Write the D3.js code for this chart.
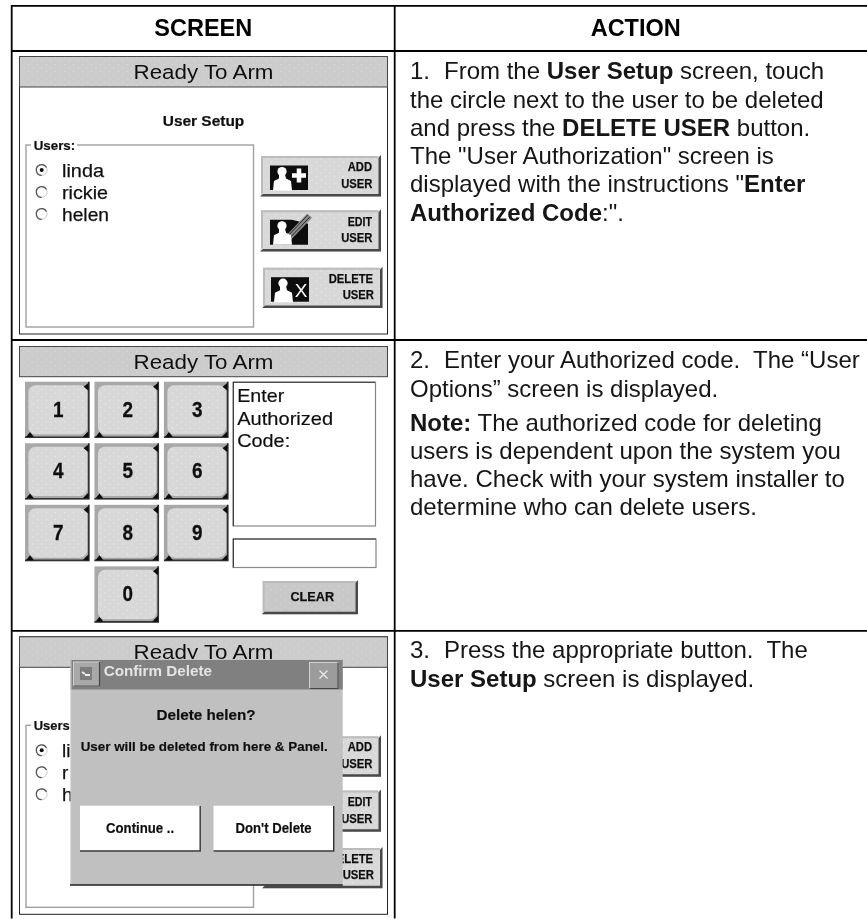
<!DOCTYPE html>
<html lang="en">
<head>
<meta charset="UTF-8">
<title>Delete user screens</title>
<script src="https://d3js.org/d3.v7.min.js"></script>
<style>
    html, body { margin: 0; padding: 0; background: #fff; }
    svg { display: block; }
    text { font-family: "Liberation Sans", Arial, sans-serif; white-space: pre; }
</style>
</head>
<body>
<svg width="867" height="919"></svg>
<script>
    // table content
    const headerLabels = ["SCREEN", "ACTION"];
    const screenTitle = "Ready To Arm";
    const userNames = ["linda", "rickie", "helen"];
    const userNamesCovered = ["li", "r", "h"];
    const selectedUser = "linda";
    const keypadRows = [["1", "2", "3"], ["4", "5", "6"], ["7", "8", "9"], [null, "0", null]];
    const promptLines = ["Enter", "Authorized", "Code:"];
    const dialogTitle = "Confirm Delete";
    const dialogQuestion = "Delete helen?";
    const dialogMessage = "User will be deleted from here & Panel.";
    const dialogButtons = ["Continue ..", "Don't Delete"];

    // [text, bold] pieces per line, first line holds the step number
    const step1Lines = [
        [["From the ", 0], ["User Setup", 1], [" screen, touch", 0]],
        [["the circle next to the user to be deleted", 0]],
        [["and press the ", 0], ["DELETE USER", 1], [" button.", 0]],
        [["The \"User Authorization\" screen is", 0]],
        [["displayed with the instructions \"", 0], ["Enter", 1]],
        [["Authorized Code", 1], [":\".", 0]]
    ];
    const step2Lines = [
        [["Enter your Authorized code.  The \u201cUser", 0]],
        [["Options\u201d screen is displayed.", 0]],
        [["Note:", 1], [" The authorized code for deleting", 0]],
        [["users is dependent upon the system you", 0]],
        [["have. Check with your system installer to", 0]],
        [["determine who can delete users.", 0]]
    ];
    const step3Lines = [
        [["Press the appropriate button.  The", 0]],
        [["User Setup", 1], [" screen is displayed.", 0]]
    ];

    const svg = d3.select("svg");
    const width = +svg.attr("width");
    const height = +svg.attr("height");

    const defs = svg.append("defs");

    // light dots on the gray button faces
    function dotPattern(id, bg, dot) {
        const p = defs.append("pattern").attr("id", id)
            .attr("width", 9).attr("height", 7)
            .attr("patternUnits", "userSpaceOnUse");
        p.append("rect").attr("width", 9).attr("height", 7).attr("fill", bg);
        p.append("rect").attr("x", 1).attr("y", 1).attr("width", 1).attr("height", 1).attr("fill", dot);
        p.append("rect").attr("x", 5.5).attr("y", 4.5).attr("width", 1).attr("height", 1).attr("fill", dot);
    }
    dotPattern("titleDots", "#cccccc", "#dcdcdc");
    dotPattern("faceDots", "#d8d8d8", "#eeeeee");
    dotPattern("clearDots", "#c8c8c8", "#d8d8d8");

    defs.append("filter").attr("id", "soft")
        .attr("x", 0).attr("y", 0).attr("width", 1).attr("height", 1)
        .append("feGaussianBlur").attr("stdDeviation", 0.35);

    function label(g, str, x, y, o) {
        const t = g.append("text").attr("x", x).attr("y", y)
            .attr("font-size", o.size)
            .attr("font-weight", o.bold ? "bold" : "normal")
            .attr("text-anchor", o.anchor || "start")
            .attr("fill", o.fill || "#111")
            .text(str);
        if (o.fit) t.attr("textLength", o.fit).attr("lengthAdjust", "spacingAndGlyphs");
        if (o.heavy) t.attr("stroke", o.fill || "#111").attr("stroke-width", o.heavy);
        return t;
    }

    function box(g, x0, y0, x1, y1, fill, stroke, sw) {
        return g.append("rect").attr("x", x0).attr("y", y0)
            .attr("width", x1 - x0).attr("height", y1 - y0)
            .attr("fill", fill).attr("stroke", stroke || "none").attr("stroke-width", sw || 0);
    }

    function titleBar(g, y0, y1) {
        box(g, 19.5, y0, 387.5, y1, "url(#titleDots)", "#444", 1);
        label(g, screenTitle, 203.5, y0 + 22, {size: 20.5, anchor: "middle", fit: 140});
    }

    // raised gray button: soft top and left, dark slanted bottom and right
    function raised(g, x0, y0, x1, y1, face) {
        box(g, x0 + 1, y0 + 1, x1, y1, face);
        g.append("path").attr("fill", "#bcbcbc")
            .attr("d", `M${x0 + 1},${y0 + 1}H${x1 - 3}V${y0 + 3}H${x0 + 3}V${y1 - 3}H${x0 + 1}Z`);
        g.append("path").attr("fill", "#4a4a4a")
            .attr("d", `M${x0},${y1}L${x0 + 3},${y1 - 2.5}H${x1 - 2.5}V${y0 + 3}L${x1},${y0}V${y1}Z`);
    }

    function person(g, x, y) {
        g.append("circle").attr("cx", x).attr("cy", y).attr("r", 4.6).attr("fill", "#fff");
        g.append("path").attr("fill", "#fff")
            .attr("d", `M${x - 3},${y + 3}h6l1,4l5,2.5l1,9.5h-19l1,-9.5l5,-2.5z`);
    }

    const actionButtons = [
        {lines: ["ADD", "USER"], x0: 260, x1: 381, y0: 155, y1: 196.5, right: [372, 372.5], base: [171, 187.7], fit: [24.3, 31.3]},
        {lines: ["EDIT", "USER"], x0: 260, x1: 381, y0: 209.3, y1: 251.5, right: [372, 372.5], base: [225.7, 242.3], fit: [24.3, 31.3]},
        {lines: ["DELETE", "USER"], x0: 262, x1: 382.5, y0: 266.7, y1: 308, right: [373, 374], base: [283, 299], fit: [44.3, 31.3]}
    ];

    function drawUserSetup(g, covered) {
        box(g, 19.5, 56.5, 387.5, 334, "#fff", "#222", 1);
        titleBar(g, 56.5, 87);
        if (!covered) label(g, "User Setup", 203.5, 126, {size: 15, bold: true, anchor: "middle", fit: 81.5, heavy: 0.2});

        box(g, 26, 145, 253.5, 327, "none", "#a0a0a0", 1.4);
        box(g, 31, 140, 77, 154, "#fff");
        if (covered) label(g, "Users", 33.7, 150, {size: 12.5, bold: true, fit: 36, heavy: 0.2});
        else label(g, "Users:", 33.7, 150, {size: 12.5, bold: true, fit: 41.5, heavy: 0.2});

        const userY = d3.scalePoint().domain(userNames).range([176.7, 220.7]);
        const radio = d3.arc().innerRadius(4.7).outerRadius(6);
        const rows = g.selectAll(".user").data(userNames).enter().append("g").attr("class", "user");
        rows.append("circle").attr("cx", 41.7).attr("cy", d => userY(d) - 6.7).attr("r", 5.4)
            .attr("fill", "#fff").attr("stroke", "#ccc").attr("stroke-width", 1);
        rows.append("path")
            .attr("transform", d => `translate(41.7,${userY(d) - 6.7})`)
            .attr("fill", "#555")
            .attr("d", radio({startAngle: -Math.PI, endAngle: Math.PI * 0.35}));
        rows.filter(d => d === selectedUser).append("circle")
            .attr("cx", 41.7).attr("cy", d => userY(d) - 6.7).attr("r", 2).attr("fill", "#111");
        rows.each(function(d, i) {
            if (covered) label(d3.select(this), userNamesCovered[i], 62, userY(d), {size: 19, heavy: 0.25});
            else label(d3.select(this), d, 62, userY(d), {size: 19, heavy: 0.25, fit: [42, 46, 47][i]});
        });

        actionButtons.forEach((b, i) => {
            const bg = g.append("g");
            raised(bg, b.x0, b.y0, b.x1, b.y1, "url(#faceDots)");
            b.lines.forEach((line, j) => {
                label(bg, line, b.right[j], b.base[j], {size: 13, bold: true, anchor: "end", fit: b.fit[j], heavy: 0.25});
            });
            const ix = b.x0 + 10 - (i === 2 ? 1 : 0), iy = b.y0 + 10.5;
            if (i === 1) {
                // edit icon: square cut away at the top right for the pencil
                bg.append("path").attr("fill", "#111")
                    .attr("d", `M${ix},${iy}h22l16,4v21h-38z`);
                bg.append("path").attr("fill", "#888")
                    .attr("d", `M${ix + 16},${iy + 16}l21,-22l5,4l-21,22l-7,2z`);
                bg.append("path").attr("fill", "none").attr("stroke", "#222").attr("stroke-width", 0.9)
                    .attr("d", `M${ix + 18},${iy + 16}l20,-21M${ix + 20},${iy + 18}l20,-21`);
            } else {
                box(bg, ix, iy, ix + 38, iy + 24.5, "#111");
            }
            person(bg, ix + 12, iy + 6);
            if (i === 0) {
                bg.append("path").attr("fill", "none").attr("stroke", "#fff").attr("stroke-width", 4.5)
                    .attr("d", `M${ix + 22},${iy + 10}h14M${ix + 29},${iy + 3}v14`);
            }
            if (i === 2) {
                label(bg, "X", ix + 30, iy + 20, {size: 19, anchor: "middle", fill: "#fff"});
            }
        });
    }

    function drawKeypad(g) {
        titleBar(g, 346.5, 376.7);
        const keyX = d3.scaleBand().domain(d3.range(3)).range([25, 228.5]).paddingInner(0.07);
        const keyY = d3.scaleBand().domain(d3.range(keypadRows.length)).range([381.7, 622.7]).paddingInner(0.085);
        keypadRows.forEach((row, r) => {
            row.forEach((digit, c) => {
                if (digit === null) return;
                const x0 = keyX(c), y0 = keyY(r), x1 = x0 + keyX.bandwidth(), y1 = y0 + keyY.bandwidth();
                const k = g.append("g");
                box(k, x0, y0, x1, y1, "#a8a8a8");
                k.append("rect").attr("x", x0 + 3.5).attr("y", y0 + 3.5)
                    .attr("width", x1 - x0 - 6).attr("height", y1 - y0 - 7).attr("rx", 7)
                    .attr("fill", "url(#faceDots)");
                k.append("path").attr("fill", "none").attr("stroke", "#333").attr("stroke-width", 1.6)
                    .attr("d", `M${x0},${y1 - 0.8}H${x1 - 0.8}V${y0}`);
                k.append("path").attr("fill", "#111")
                    .attr("d", `M${x1 - 1},${y0 + 1}v8l-5,-4z`
                        + `M${x1 - 1},${y1 - 7}v6h-6z`
                        + `M${x0 + 1},${y1 - 1}l4,-5l4,5z`);
                label(k, digit, (x0 + x1) / 2 + 1, y0 + 35, {size: 22, bold: true, anchor: "middle", fit: 10.5, heavy: 0.3});
            });
        });

        box(g, 233.3, 382.2, 375.5, 526, "#fff", "#888", 1.2);
        g.append("path").attr("fill", "none").attr("stroke", "#333").attr("stroke-width", 1.1)
            .attr("d", "M233.3,526V382.2H375");
        const promptY = d3.scalePoint().domain(promptLines).range([402.3, 446.7]);
        const promptFit = [47, 96, 53];
        promptLines.forEach((line, i) => {
            label(g, line, 237.2, promptY(line), {size: 19, heavy: 0.2, fit: promptFit[i]});
        });

        box(g, 233.3, 539, 376, 567.5, "#fff", "#888", 1.2);
        g.append("path").attr("fill", "none").attr("stroke", "#333").attr("stroke-width", 1.1)
            .attr("d", "M233.3,567.5V539H376");

        raised(g, 261.7, 580, 358, 614.3, "url(#clearDots)");
        label(g, "CLEAR", 312.3, 600.7, {size: 13.5, bold: true, anchor: "middle", fit: 43.7, heavy: 0.25});
    }

    function drawDialog(g) {
        box(g, 70.7, 659.3, 342.7, 885, "#c0c0c0");
        box(g, 70.7, 659.3, 342.7, 689.5, "#808080");
        g.append("path").attr("fill", "none").attr("stroke", "#c8c8c8").attr("stroke-width", 1)
            .attr("d", "M71,885V659.5H342.5");
        g.append("path").attr("fill", "none").attr("stroke", "#222").attr("stroke-width", 1.4)
            .attr("d", "M70,885H342.7");

        // system menu and close buttons in the title bar
        box(g, 73.5, 662, 99.5, 686, "#a8a8a8", "#d0d0d0", 1);
        g.append("path").attr("fill", "none").attr("stroke", "#444").attr("stroke-width", 1.2)
            .attr("d", "M73.5,686H99.5V662");
        box(g, 80, 667, 92, 680, "#7c7c7c");
        g.append("path").attr("fill", "none").attr("stroke", "#eee").attr("stroke-width", 2)
            .attr("d", "M82,672l3,2M85,675h5");
        box(g, 309.5, 662.5, 338, 688.5, "#9c9c9c", "#d0d0d0", 1);
        g.append("path").attr("fill", "none").attr("stroke", "#444").attr("stroke-width", 1.2)
            .attr("d", "M309.5,688.5H338V662.5");
        g.append("path").attr("fill", "none").attr("stroke", "#e8e8e8").attr("stroke-width", 1.4)
            .attr("d", "M319.5,670.5l8,8M327.5,670.5l-8,8");

        label(g, dialogTitle, 103.7, 675.7, {size: 15, bold: true, fill: "#e4e4e4", fit: 108.3});
        label(g, dialogQuestion, 206, 720, {size: 15.5, bold: true, anchor: "middle", fit: 99, heavy: 0.2});
        label(g, dialogMessage, 80.7, 751.3, {size: 13.5, bold: true, fit: 247, heavy: 0.2});

        const buttonX = d3.scaleBand().domain(dialogButtons).range([80, 333.7]).paddingInner(0.1);
        const buttonFit = [68, 76];
        dialogButtons.forEach((b, i) => {
            const x0 = buttonX(b), x1 = x0 + buttonX.bandwidth();
            box(g, x0, 805.7, x1, 851.5, "#fff");
            g.append("path").attr("fill", "none").attr("stroke", "#333").attr("stroke-width", 1.4)
                .attr("d", `M${x0},851H${x1}V806`);
            label(g, b, (x0 + x1) / 2, 833.3, {size: 14, bold: true, anchor: "middle", fit: buttonFit[i], heavy: 0.2});
        });
    }

    function drawStep(g, num, lines, baselines) {
        lines.forEach((pieces, i) => {
            const x = (i === 0) ? 444 : 410;
            if (i === 0) label(g, num + ".", 410, baselines[0], {size: 24, fill: "#151515"});
            const t = g.append("text").attr("x", x).attr("y", baselines[i])
                .attr("font-size", 24).attr("fill", "#151515");
            t.selectAll("tspan").data(pieces).enter().append("tspan")
                .attr("font-weight", d => d[1] ? "bold" : "normal")
                .text(d => d[0]);
        });
    }

    const page = svg.append("g").attr("filter", "url(#soft)");
    box(page, 0, 0, width, height, "#fff");

    // screens first, table rules on top
    drawUserSetup(page.append("g"), false);
    drawKeypad(page.append("g"));
    drawUserSetup(page.append("g").attr("transform", "translate(0,580.3)"), true);
    drawDialog(page.append("g"));

    const rules = page.append("g").attr("stroke", "#000").attr("stroke-width", 1.8);
    [5.8, 51, 340, 630.8].forEach(y => {
        rules.append("line").attr("x1", 11).attr("x2", width).attr("y1", y).attr("y2", y);
    });
    [11.7, 394.7].forEach(x => {
        rules.append("line").attr("x1", x).attr("x2", x).attr("y1", 5).attr("y2", 918.5);
    });

    const headerX = d3.scaleOrdinal().domain(headerLabels).range([203.3, 635.7]);
    headerLabels.forEach(h => {
        label(page, h, headerX(h), 36, {size: 23.5, bold: true, anchor: "middle", fill: "#000"});
    });

    drawStep(page, 1, step1Lines, [79.3, 107.6, 136, 164, 192.4, 220.6]);
    drawStep(page, 2, step2Lines, [368.3, 396.6, 430.7, 459, 486.9, 514.6]);
    drawStep(page, 3, step3Lines, [658.3, 687]);
</script>
</body>
</html>
